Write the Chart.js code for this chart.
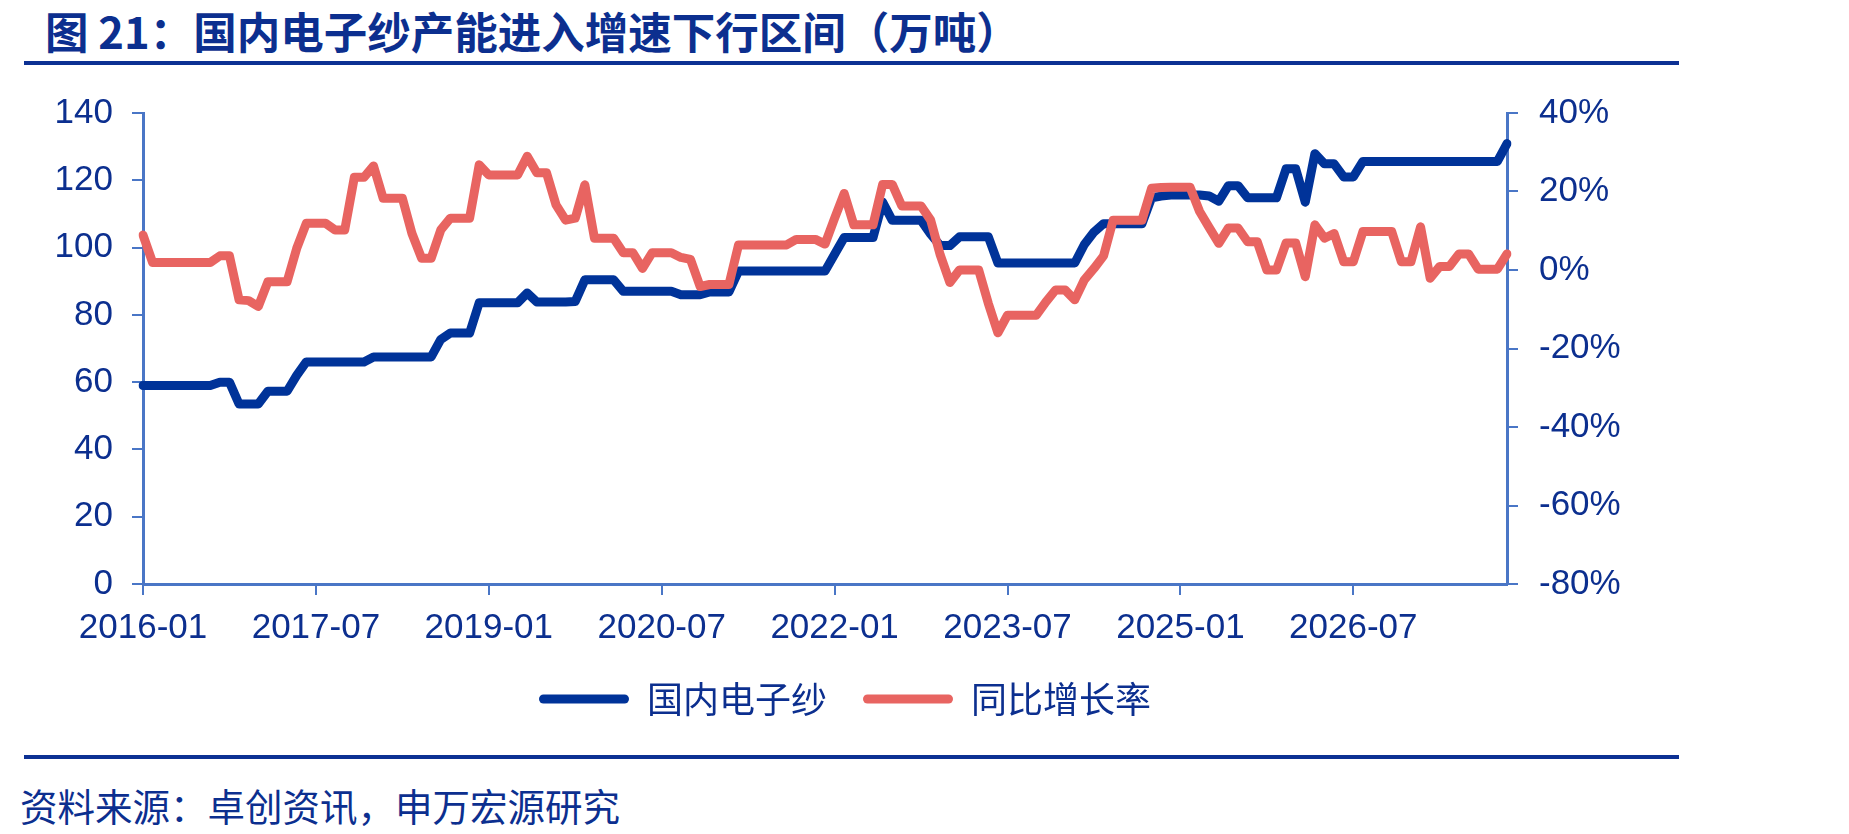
<!DOCTYPE html>
<html lang="zh-CN">
<head>
<meta charset="utf-8">
<script src="https://cdn.jsdelivr.net/npm/chart.js@4.4.1/dist/chart.umd.min.js"></script>
<style>
  body { margin: 0; width: 1849px; height: 834px; background: #fff; position: relative; overflow: hidden; font-family: "Noto Sans CJK SC", sans-serif; }
  #title { position: absolute; left: 45px; top: 3px; font-size: 43.5px; font-weight: bold; color: #0c2f8f; white-space: nowrap; line-height: 56px; }
  .rule { position: absolute; left: 24px; width: 1655px; height: 4px; background: #0c3193; }
  #source { position: absolute; left: 20px; top: 781px; font-size: 37.5px; color: #0c2f8f; line-height: 48px; white-space: nowrap; }
  #wrap { position: absolute; left: 0; top: 70px; }
</style>
</head>
<body>
<div id="title">图 21：国内电子纱产能进入增速下行区间（万吨）</div>
<div class="rule" style="top:61px"></div>
<div id="wrap"><canvas id="chart" width="1690" height="700"></canvas></div>
<div class="rule" style="top:755px"></div>
<div id="source">资料来源：卓创资讯，申万宏源研究</div>
<script>
// 月度数据 2016-01 起
const startYear = 2016;
const monthCount = 143;
const months = [];
for (let k = 0; k < monthCount; k++) {
    const y = startYear + Math.floor(k / 12);
    const m = k % 12 + 1;
    months.push(y + '-' + String(m).padStart(2, '0'));
}

// 国内电子纱产能（万吨）
const capacity = [
    59, 59, 59, 59, 59, 59, 59, 59, 60, 60, 53.5, 53.5, 53.5, 57.3, 57.3, 57.3, 62,
    66, 66, 66, 66, 66, 66, 66, 67.5, 67.5, 67.5, 67.5, 67.5, 67.5, 67.5, 72.7,
    74.6, 74.6, 74.6, 83.6, 83.6, 83.6, 83.6, 83.6, 86.5, 83.8, 83.8, 83.8, 83.8, 84,
    90.4, 90.4, 90.4, 90.4, 87, 87, 87, 87, 87, 87, 86, 86, 86, 86.8, 86.8, 86.8,
    93, 93, 93, 93, 93, 93, 93, 93, 93, 93, 98, 103, 103, 103, 103, 113.5,
    108.1, 108.1, 108.1, 108.1, 104, 100.6, 100.6, 103.2, 103.2, 103.2, 103.2,
    95.4, 95.4, 95.4, 95.4, 95.4, 95.4, 95.4, 95.4, 95.4, 100.9, 104.6,
    107.1, 107.1, 107.1, 107.1, 107.1, 114.8, 115.3, 115.6, 115.6, 115.6, 115.6, 115.3, 113.8,
    118.4, 118.4, 114.8, 114.8, 114.8, 114.8, 123.4, 123.4, 113.5, 127.9, 124.9, 124.9, 121, 121,
    125.6, 125.6, 125.6, 125.6, 125.6, 125.6, 125.6, 125.6, 125.6, 125.6, 125.6, 125.6, 125.6, 125.6, 125.6,
    130.9
];

// 同比增长率（%）
const yoy = [
    8.9, 1.9, 1.9, 1.9, 1.9, 1.9, 1.9, 1.9, 3.6, 3.6, -7.6, -7.8, -9.3, -3, -3, -3, 5.5,
    11.9, 11.9, 11.9, 10.2, 10.2, 23.6, 23.6, 26.5, 18.3, 18.3, 18.3, 9.3, 3, 3, 10.2,
    13.2, 13.2, 13.2, 26.8, 24.2, 24.2, 24.2, 24.2, 29, 24.8, 24.8, 16.6, 12.7, 13.2,
    21.7, 8.1, 8.1, 8.1, 4.4, 4.4, 0.4, 4.4, 4.4, 4.4, 3.2, 2.7, -4.2, -3.7, -3.7, -3.7,
    6.4, 6.4, 6.4, 6.4, 6.4, 6.4, 7.8, 7.8, 7.8, 6.6, 13.2, 19.5, 11.5, 11.5, 11.5, 21.8,
    21.8, 16.3, 16.3, 16.3, 12.7, 3.8, -3.2, 0, 0, 0, -8.5,
    -16, -11.5, -11.5, -11.5, -11.5, -8.1, -5.1, -5.1, -7.6, -2.5, 0.4,
    3.6, 12.7, 12.7, 12.7, 12.7, 20.8, 21, 21.1, 21.1, 21.1, 14.9, 10.8, 6.8,
    10.7, 10.7, 7.2, 7.2, 0, 0, 6.9, 6.9, -1.7, 11.5, 8.1, 9.3, 2.1, 2.1,
    9.8, 9.8, 9.8, 9.8, 2.1, 2.1, 11, -2.1, 0.9, 0.9, 4.1, 4.1, 0.2, 0.2, 0.2,
    4.1
];

const TEXT = '#0c2f8f';
const AXIS = '#4a76c6';
const BLUE = '#003399';
const RED = '#e86461';
const tickFont = { family: "'Liberation Sans', Arial, sans-serif", size: 35 };

const ctx = document.getElementById('chart').getContext('2d');
new Chart(ctx, {
    type: 'line',
    data: {
        labels: months,
        datasets: [
            {
                label: '国内电子纱',
                data: capacity,
                yAxisID: 'y',
                borderColor: BLUE,
                backgroundColor: BLUE,
                borderWidth: 9,
                pointRadius: 0,
                borderJoinStyle: 'round',
                borderCapStyle: 'round',
                order: 1
            },
            {
                label: '同比增长率',
                data: yoy,
                yAxisID: 'y1',
                borderColor: RED,
                backgroundColor: RED,
                borderWidth: 9,
                pointRadius: 0,
                borderJoinStyle: 'round',
                borderCapStyle: 'round',
                order: 0 // 红线画在上面
            }
        ]
    },
    options: {
        responsive: false,
        animation: false,
        layout: { padding: { top: 43, left: 0, right: 0, bottom: 43 } },
        scales: {
            x: {
                type: 'category',
                offset: false,
                border: { color: AXIS, width: 3 },
                grid: {
                    drawOnChartArea: false,
                    tickLength: 11,
                    lineWidth: 2,
                    color: c => (c.index % 18 === 0 ? AXIS : 'rgba(0,0,0,0)')
                },
                ticks: {
                    autoSkip: false,
                    maxRotation: 0,
                    color: TEXT,
                    font: tickFont,
                    padding: 12,
                    callback: function (v, i) { return i % 18 === 0 ? this.getLabelForValue(v) : ''; }
                },
                afterFit: s => { s.height = 61; }
            },
            y: {
                position: 'left',
                min: 0,
                max: 140,
                border: { color: AXIS, width: 3 },
                grid: { drawOnChartArea: false, tickLength: 11, lineWidth: 2, color: AXIS },
                ticks: { stepSize: 20, color: TEXT, font: tickFont, padding: 19 },
                afterFit: s => { s.width = 143; }
            },
            y1: {
                position: 'right',
                min: -80,
                max: 40,
                border: { color: AXIS, width: 3 },
                grid: { drawOnChartArea: false, tickLength: 11, lineWidth: 2, color: AXIS },
                ticks: { stepSize: 20, color: TEXT, font: tickFont, padding: 21, callback: v => v + '%' },
                afterFit: s => { s.width = 183; }
            }
        },
        plugins: {
            tooltip: { enabled: false },
            legend: {
                position: 'bottom',
                labels: {
                    color: TEXT,
                    font: { family: "'Noto Sans CJK SC', sans-serif", size: 36 },
                    boxWidth: 90,
                    boxHeight: 9,
                    padding: 36,
                    useBorderRadius: true,
                    borderRadius: 4.5,
                    sort: (a, b) => a.datasetIndex - b.datasetIndex,
                    generateLabels: chart => {
                        const items = Chart.defaults.plugins.legend.labels.generateLabels(chart);
                        items.forEach(it => { it.lineWidth = 0; it.strokeStyle = it.fillStyle; });
                        return items;
                    }
                }
            }
        }
    }
});
</script>
</body>
</html>
